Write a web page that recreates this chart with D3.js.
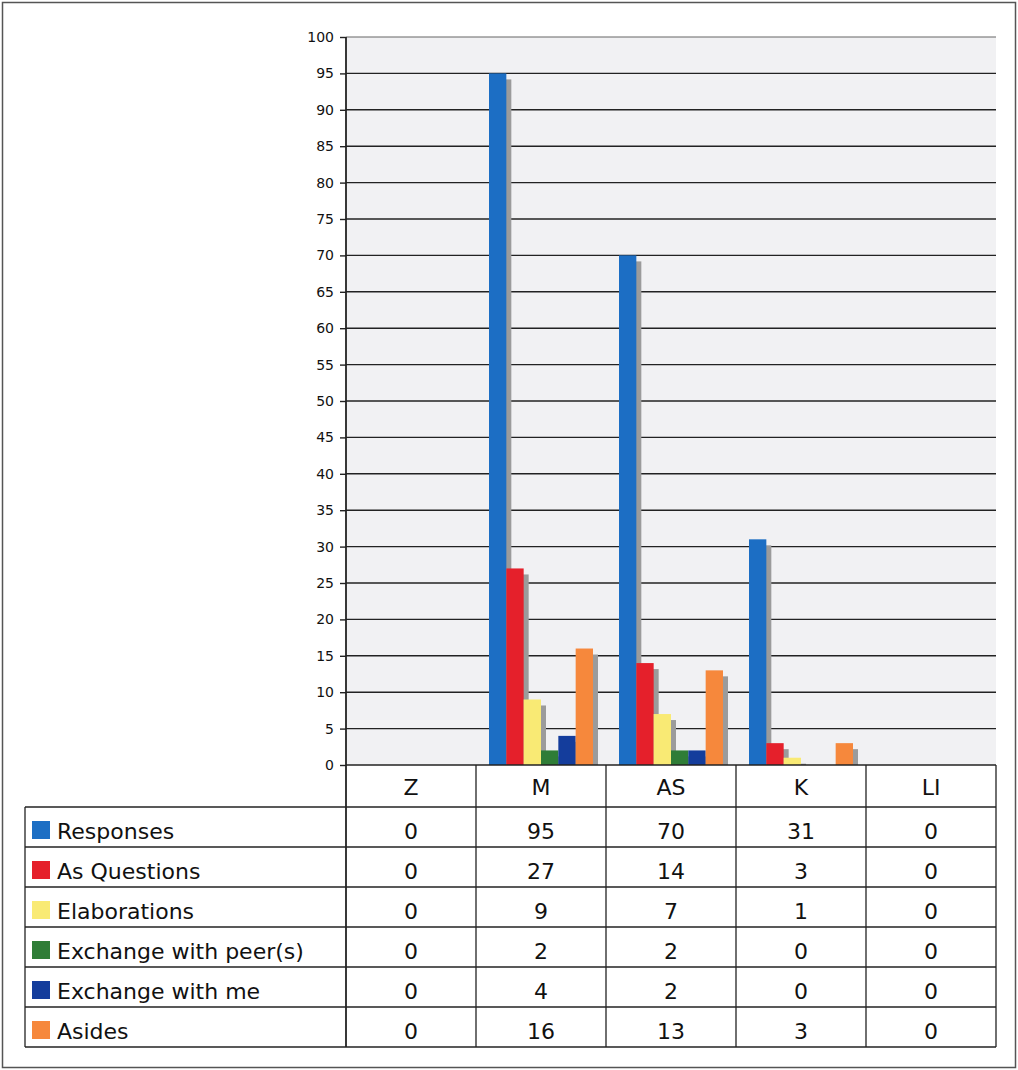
<!DOCTYPE html>
<html>
<head>
<meta charset="utf-8">
<script src="https://cdn.jsdelivr.net/npm/d3@7"></script>
<style>
  html, body { margin: 0; padding: 0; background: #ffffff; }
  svg { display: block; }
  text { font-family: "DejaVu Sans", Verdana, sans-serif; fill: #111; }
</style>
</head>
<body>
<svg id="chart" width="1018" height="1070"></svg>
<script>
// Categories (columns of the data table)
const categories = ["Z", "M", "AS", "K", "LI"];

// Series names and colours
const seriesNames = ["Responses", "As Questions", "Elaborations", "Exchange with peer(s)", "Exchange with me", "Asides"];
const seriesColors = ["#1c6ec4", "#e5202b", "#f9ea74", "#2f7d37", "#143d9c", "#f6883c"];

// Series values, one per category
const responses      = [0, 95, 70, 31, 0];
const asQuestions    = [0, 27, 14, 3, 0];
const elaborations   = [0, 9, 7, 1, 0];
const exchangePeers  = [0, 2, 2, 0, 0];
const exchangeMe     = [0, 4, 2, 0, 0];
const asides         = [0, 16, 13, 3, 0];

// Y axis ticks
const yTicks = d3.range(0, 101, 5);

const seriesValues = [responses, asQuestions, elaborations, exchangePeers, exchangeMe, asides];
const series = seriesNames.map((name, i) => ({ name, color: seriesColors[i], values: seriesValues[i] }));

const svg = d3.select("#chart");

// Plot geometry
const plotLeft = 346, plotRight = 996, plotTop = 37, plotBottom = 765;
const tableLeft = 25, headerBottom = 807, rowH = 40;
const tableBottom = headerBottom + rowH * series.length;

// Outer frame
svg.append("rect")
  .attr("x", 2.5).attr("y", 2.5).attr("width", 1013).attr("height", 1065)
  .attr("fill", "none").attr("stroke", "#555").attr("stroke-width", 1.5);

const x0 = d3.scaleBand().domain(categories).range([plotLeft, plotRight]);
const x1 = d3.scaleBand().domain(seriesNames).range([13, x0.bandwidth() - 13]);
const y = d3.scaleLinear().domain([0, 100]).range([plotBottom, plotTop]);

// Plot background
svg.append("rect")
  .attr("x", plotLeft).attr("y", plotTop)
  .attr("width", plotRight - plotLeft).attr("height", plotBottom - plotTop)
  .attr("fill", "#f1f1f3");

// Gridlines
svg.append("g").selectAll("line")
  .data(yTicks.filter(t => t > 0))
  .join("line")
  .attr("x1", plotLeft).attr("x2", plotRight)
  .attr("y1", d => y(d)).attr("y2", d => y(d))
  .attr("stroke", d => d === 100 ? "#666" : "#222")
  .attr("stroke-width", d => d === 100 ? 1.2 : 1.4);

// Bars with drop shadows
const barData = [];
series.forEach(s => {
  s.values.forEach((v, ci) => {
    if (v > 0) barData.push({ name: s.name, color: s.color, cat: categories[ci], value: v });
  });
});

const barsG = svg.append("g");
barsG.selectAll("rect.shadow")
  .data(barData)
  .join("rect")
  .attr("class", "shadow")
  .attr("x", d => x0(d.cat) + x1(d.name) + 5)
  .attr("y", d => Math.min(y(d.value) + 6, plotBottom))
  .attr("width", x1.bandwidth())
  .attr("height", d => Math.max(0, plotBottom - y(d.value) - 6))
  .attr("fill", "#9b9b9b");

barsG.selectAll("rect.bar")
  .data(barData)
  .join("rect")
  .attr("class", "bar")
  .attr("x", d => x0(d.cat) + x1(d.name))
  .attr("y", d => y(d.value))
  .attr("width", x1.bandwidth())
  .attr("height", d => plotBottom - y(d.value))
  .attr("fill", d => d.color);

// Y axis
const yAxis = d3.axisLeft(y).tickValues(yTicks).tickSize(6).tickPadding(6);
const yG = svg.append("g")
  .attr("transform", `translate(${plotLeft},0)`)
  .call(yAxis);
yG.select(".domain").remove();
yG.selectAll(".tick line").attr("stroke", "#222").attr("stroke-width", 1.4);
yG.selectAll(".tick text")
  .style("font-family", "'DejaVu Sans', Verdana, sans-serif")
  .style("font-size", "14px").attr("fill", "#111");

// Data table
const tableG = svg.append("g");
const lineColor = "#222";

// Horizontal rules
tableG.append("line")
  .attr("x1", plotLeft).attr("x2", plotRight)
  .attr("y1", plotBottom).attr("y2", plotBottom)
  .attr("stroke", lineColor).attr("stroke-width", 1.6);
d3.range(series.length + 1).forEach(i => {
  const yy = headerBottom + i * rowH;
  tableG.append("line")
    .attr("x1", tableLeft).attr("x2", plotRight)
    .attr("y1", yy).attr("y2", yy)
    .attr("stroke", lineColor).attr("stroke-width", 1.3);
});

// Vertical rules
tableG.append("line")
  .attr("x1", tableLeft).attr("x2", tableLeft)
  .attr("y1", headerBottom).attr("y2", tableBottom)
  .attr("stroke", lineColor).attr("stroke-width", 1.3);
categories.forEach(c => {
  tableG.append("line")
    .attr("x1", x0(c)).attr("x2", x0(c))
    .attr("y1", c === categories[0] ? plotTop : plotBottom).attr("y2", tableBottom)
    .attr("stroke", lineColor).attr("stroke-width", c === categories[0] ? 1.8 : 1.3);
});
tableG.append("line")
  .attr("x1", plotRight).attr("x2", plotRight)
  .attr("y1", plotBottom).attr("y2", tableBottom)
  .attr("stroke", lineColor).attr("stroke-width", 1.3);

// Header row: category names
tableG.selectAll("text.cat")
  .data(categories)
  .join("text")
  .attr("class", "cat")
  .attr("x", d => x0(d) + x0.bandwidth() / 2)
  .attr("y", plotBottom + 30)
  .attr("text-anchor", "middle")
  .style("font-size", "22px")
  .text(d => d);

// Series rows: legend key, name and values
series.forEach((s, i) => {
  const top = headerBottom + i * rowH;
  const row = tableG.append("g");
  row.append("rect")
    .attr("x", 32).attr("y", top + 14)
    .attr("width", 18).attr("height", 18)
    .attr("fill", s.color);
  row.append("text")
    .attr("x", 57).attr("y", top + 32)
    .style("font-size", "22px")
    .text(s.name);
  row.selectAll("text.val")
    .data(s.values)
    .join("text")
    .attr("class", "val")
    .attr("x", (d, ci) => x0(categories[ci]) + x0.bandwidth() / 2)
    .attr("y", top + 32)
    .attr("text-anchor", "middle")
    .style("font-size", "22px")
    .text(d => d);
});
</script>
</body>
</html>
